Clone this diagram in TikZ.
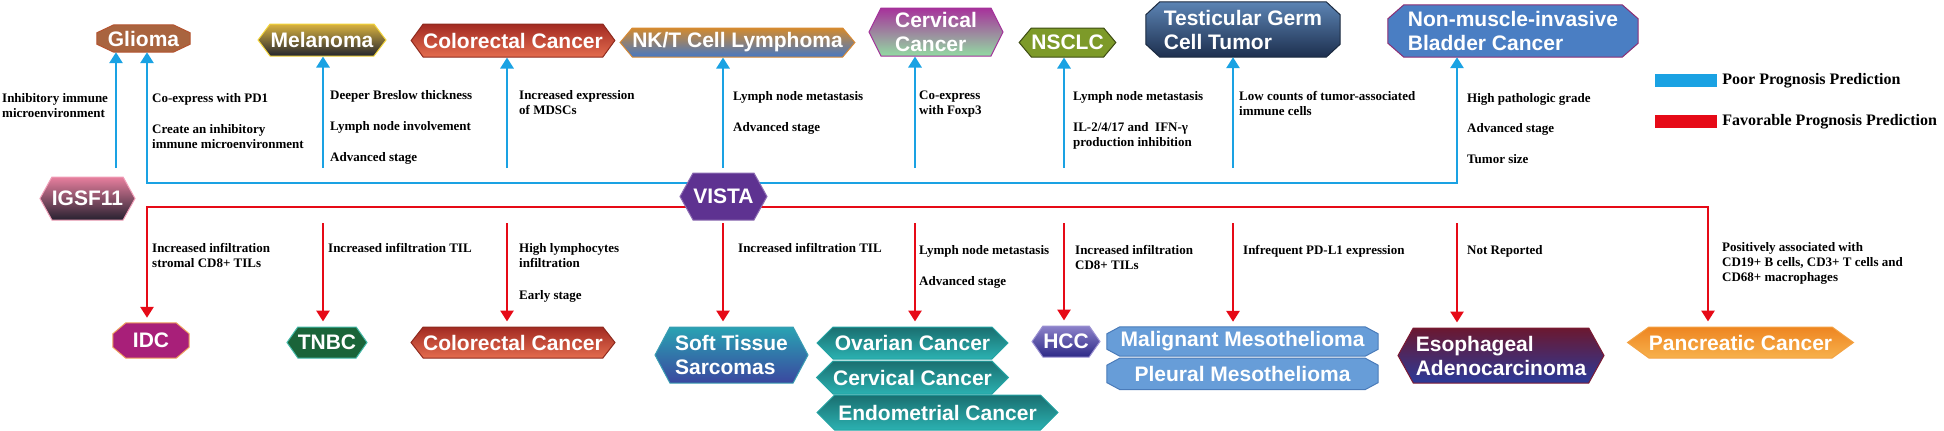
\documentclass[tikz,border=0pt]{standalone}
\usepackage{fontspec}
\setmainfont{Liberation Serif}
\setsansfont{Liberation Sans}
\usepackage{tikz}
\usetikzlibrary{shapes.symbols, arrows.meta, positioning, backgrounds}
\definecolor{poorblue}{HTML}{1AA2E3}
\definecolor{goodred}{HTML}{E60A17}
\definecolor{gliomaFill}{HTML}{A9643F}
\definecolor{gliomaLine}{HTML}{B4532F}
\definecolor{melTop}{HTML}{D9B23E}
\definecolor{melBot}{HTML}{23252F}
\definecolor{melLine}{HTML}{F2D43C}
\definecolor{crcTop}{HTML}{A22A22}
\definecolor{crcBot}{HTML}{E36C4E}
\definecolor{crcLine}{HTML}{8E2A1E}
\definecolor{nktTop}{HTML}{D38A2E}
\definecolor{nktBot}{HTML}{4778C2}
\definecolor{nktLine}{HTML}{D88A34}
\definecolor{cervTop}{HTML}{A7319B}
\definecolor{cervBot}{HTML}{92DBA2}
\definecolor{cervLine}{HTML}{A3329A}
\definecolor{nsclcFill}{HTML}{7D9A29}
\definecolor{nsclcLine}{HTML}{3D4C12}
\definecolor{tgctTop}{HTML}{5C84B4}
\definecolor{tgctBot}{HTML}{1D2F4E}
\definecolor{tgctLine}{HTML}{1B2A40}
\definecolor{nmibcFill}{HTML}{4A7EC3}
\definecolor{nmibcLine}{HTML}{8C2C72}
\definecolor{igsfTop}{HTML}{E77F9E}
\definecolor{igsfBot}{HTML}{272130}
\definecolor{igsfLine}{HTML}{F09FB8}
\definecolor{vistaFill}{HTML}{5E3291}
\definecolor{vistaLine}{HTML}{8C6CB2}
\definecolor{idcFill}{HTML}{A81F79}
\definecolor{idcLine}{HTML}{EFA25E}
\definecolor{tnbcFill}{HTML}{1A6439}
\definecolor{tnbcLine}{HTML}{43B9A8}
\definecolor{stsTop}{HTML}{29A3B3}
\definecolor{stsBot}{HTML}{3B479F}
\definecolor{stsLine}{HTML}{3A9DB2}
\definecolor{gynTop}{HTML}{1A6F70}
\definecolor{gynBot}{HTML}{2BB1B1}
\definecolor{gynLine}{HTML}{23A3A3}
\definecolor{hccTop}{HTML}{8C82CA}
\definecolor{hccBot}{HTML}{2D2986}
\definecolor{hccLine}{HTML}{9C92D2}
\definecolor{mesoFill}{HTML}{679DD8}
\definecolor{mesoLine}{HTML}{4A7BB9}
\definecolor{eacTop}{HTML}{6B1830}
\definecolor{eacBot}{HTML}{2B3A99}
\definecolor{eacLine}{HTML}{7C1B33}
\definecolor{pdacTop}{HTML}{EE8521}
\definecolor{pdacBot}{HTML}{F7B14C}
\definecolor{pdacLine}{HTML}{F3A243}

% octagon outline around a node: name, x cut, y cut, path options
\newcommand{\octframe}[4]{%
  \path[#4] ([xshift=#2]#1.north west) -- ([xshift=-#2]#1.north east)
    -- ([yshift=-#3]#1.north east) -- ([yshift=#3]#1.south east)
    -- ([xshift=-#2]#1.south east) -- ([xshift=#2]#1.south west)
    -- ([yshift=#3]#1.south west) -- ([yshift=-#3]#1.north west) -- cycle;}

\begin{document}
\begin{tikzpicture}[
    x=1pt, y=-1pt,
    hexbox/.style={signal, signal to=east and west, signal pointer angle=#1, draw, line width=1pt, inner sep=0pt, text=white, align=left, font=\sffamily\bfseries\fontsize{21}{24}\selectfont},
    hexbox/.default=110,
    octbox/.style={rectangle, inner sep=0pt, text=white, align=left, font=\sffamily\bfseries\fontsize{21}{24}\selectfont},
    grad/.style 2 args={top color=#1, bottom color=#2},
    poor/.style={draw=poorblue, line width=2.8pt, -{Triangle[length=11pt,width=13pt]}},
    good/.style={draw=goodred, line width=2.8pt, -{Triangle[length=11pt,width=13pt]}, shorten >=5pt},
    lbl/.style={anchor=north west, align=left, inner sep=0pt, font=\bfseries\fontsize{13}{15}\selectfont},
    key/.style={minimum width=62pt, minimum height=13pt, inner sep=0pt},
    keytext/.style={inner sep=0pt, font=\bfseries\fontsize{16}{18}\selectfont}
]
\useasboundingbox (0,0) rectangle (1944,431);

% column positions of the arrows
\foreach \i/\x in {1/147, 2/323, 3/507, 4/723, 5/915, 6/1064, 7/1233, 8/1457, 9/1708}
    \coordinate (col\i) at (\x,0);

% poor prognosis (top row)
\node[octbox, minimum width=93pt, minimum height=27pt] (glioma) at (143.5,38.5) {Glioma};
\node[hexbox=106, grad={melTop}{melBot}, draw=melLine, minimum width=128pt, minimum height=32pt] (melanoma) at (322,40) {Melanoma};
\node[hexbox=108, grad={crcTop}{crcBot}, draw=crcLine, minimum width=200pt, minimum height=33pt] (crc-top) at (513,40.5) {Colorectal Cancer};
\node[hexbox=100, grad={nktTop}{nktBot}, draw=nktLine, minimum width=231pt, minimum height=29pt] (nkt) at (737.5,42.5) {NK/T Cell Lymphoma};
\node[hexbox=127, grad={cervTop}{cervBot}, draw=cervLine, minimum width=134pt, minimum height=48pt] (cerv-top) at (936,32) {Cervical\\Cancer};
\node[hexbox=100, fill=nsclcFill, draw=nsclcLine, minimum width=95pt, minimum height=29pt] (nsclc) at (1067.5,42.5) {NSCLC};
\node[octbox, minimum width=194pt, minimum height=55pt] (tgct) at (1243,29.5) {Testicular Germ\\Cell Tumor};
\node[octbox, minimum width=250pt, minimum height=52pt] (nmibc) at (1513,31) {Non-muscle-invasive\\Bladder Cancer};

% checkpoints
\node[hexbox=122, grad={igsfTop}{igsfBot}, draw=igsfLine, minimum width=91pt, minimum height=43pt] (igsf) at (87.5,198.5) {IGSF11};
\node[hexbox=122, fill=vistaFill, draw=vistaLine, minimum width=87pt, minimum height=47pt] (vista) at (723.5,196.5) {VISTA};

% favorable prognosis (bottom row)
\node[octbox, minimum width=76pt, minimum height=35pt] (idc) at (151,340.5) {IDC};
\node[hexbox=110, fill=tnbcFill, draw=tnbcLine, minimum width=80pt, minimum height=31pt] (tnbc) at (327,342.5) {TNBC};
\node[hexbox=104, grad={crcTop}{crcBot}, draw=crcLine, minimum width=200pt, minimum height=31pt] (crc-bot) at (513,342.5) {Colorectal Cancer};
\node[hexbox=124, grad={stsTop}{stsBot}, draw=stsLine, minimum width=153pt, minimum height=56pt] (sts) at (731.5,355) {Soft Tissue\\Sarcomas};
\node[hexbox=90, grad={gynTop}{gynBot}, draw=gynLine, minimum width=191pt, minimum height=32pt] (ovarian) at (912.5,343) {Ovarian Cancer};
\node[hexbox=90, grad={gynTop}{gynBot}, draw=gynLine, minimum width=191pt, minimum height=33pt, below=1pt of ovarian] (cerv-bot) {Cervical Cancer};
\node[hexbox=90, grad={gynTop}{gynBot}, draw=gynLine, minimum width=241pt, minimum height=35pt] (endo) at (937.5,412.5) {Endometrial Cancer};
\node[hexbox=110, grad={hccTop}{hccBot}, draw=hccLine, minimum width=68pt, minimum height=31pt] (hcc) at (1066,341.5) {HCC};
\node[octbox, minimum width=271pt, minimum height=29pt] (mm) at (1242.5,341.5) {Malignant Mesothelioma};
\node[octbox, minimum width=271pt, minimum height=31pt, below=2pt of mm] (pm) {Pleural Mesothelioma};
\node[hexbox=122, grad={eacTop}{eacBot}, draw=eacLine, minimum width=206pt, minimum height=55pt] (eac) at (1501,355.5) {Esophageal\\Adenocarcinoma};
\node[hexbox=72, grad={pdacTop}{pdacBot}, draw=pdacLine, minimum width=223pt, minimum height=31pt] (pdac) at (1740.5,342.5) {Pancreatic Cancer};

% findings above the checkpoints
\node[lbl] (txt-igsf) at (2,93) {Inhibitory immune\\microenvironment};
\node[lbl] (txt-glioma) at (152,93) {Co-express with PD1\\[16pt]Create an inhibitory\\immune microenvironment};
\node[lbl] (txt-melanoma) at (330,90) {Deeper Breslow thickness\\[16pt]Lymph node involvement\\[16pt]Advanced stage};
\node[lbl] (txt-crc-top) at (519,90) {Increased expression\\of MDSCs};
\node[lbl] (txt-nkt) at (733,91) {Lymph node metastasis\\[16pt]Advanced stage};
\node[lbl] (txt-cerv-top) at (919,91) {Co-express\\with Foxp3};
\node[lbl] (txt-nsclc) at (1073,91) {Lymph node metastasis\\[16pt]IL-2/4/17 and\ \ IFN-γ\\production inhibition};
\node[lbl] (txt-tgct) at (1239,91) {Low counts of tumor-associated\\immune cells};
\node[lbl] (txt-nmibc) at (1467,93) {High pathologic grade\\[15pt]Advanced stage\\[16pt]Tumor size};

% findings below the checkpoints
\node[lbl] (txt-idc) at (152,243) {Increased infiltration\\stromal CD8+ TILs};
\node[lbl] (txt-tnbc) at (328,243) {Increased infiltration TIL};
\node[lbl] (txt-crc-bot) at (519,243) {High lymphocytes\\infiltration\\[17pt]Early stage};
\node[lbl] (txt-sts) at (738,243) {Increased infiltration TIL};
\node[lbl] (txt-gyn) at (919,245) {Lymph node metastasis\\[16pt]Advanced stage};
\node[lbl] (txt-hcc) at (1075,245) {Increased infiltration\\CD8+ TILs};
\node[lbl] (txt-meso) at (1243,245) {Infrequent PD-L1 expression};
\node[lbl] (txt-eac) at (1467,245) {Not Reported};
\node[lbl] (txt-pdac) at (1722,242) {Positively associated with\\CD19+ B cells, CD3+ T cells and\\CD68+ macrophages};

% legend
\node[key, fill=poorblue] (key-poor) at (1686,80.5) {};
\node[keytext, right=5pt of key-poor] (key-poor-txt) {Poor Prognosis Prediction};
\node[key, fill=goodred] (key-good) at (1686,121.5) {};
\node[keytext, right=5pt of key-good] (key-good-txt) {Favorable Prognosis Prediction};

\begin{scope}[on background layer]
% octagon outlines
\octframe{glioma}{17pt}{8pt}{fill=gliomaFill, draw=gliomaLine, line width=1pt}
\octframe{tgct}{14pt}{13pt}{grad={tgctTop}{tgctBot}, draw=tgctLine, line width=1pt}
\octframe{nmibc}{16pt}{14pt}{fill=nmibcFill, draw=nmibcLine, line width=1pt}
\octframe{idc}{13pt}{11pt}{fill=idcFill, draw=idcLine, line width=1pt}
\octframe{mm}{13pt}{7pt}{fill=mesoFill, draw=mesoLine, line width=1pt}
\octframe{pm}{13pt}{7pt}{fill=mesoFill, draw=mesoLine, line width=1pt}

% IGSF11 and VISTA -> poor prognosis
\coordinate (igsf-up) at (116,168);
\draw[poor] (igsf-up) -- (igsf-up |- glioma.south);
\coordinate (vista-up) at (723,183);
\draw[poor] (vista-up) -| (col1 |- glioma.south);
\draw[poor] (vista-up) -| (col8 |- nmibc.south);
\foreach \c/\n in {2/melanoma, 3/crc-top, 4/nkt, 5/cerv-top, 6/nsclc, 7/tgct} {
    \coordinate (rise\c) at (col\c |- 0,168);
    \draw[poor] (rise\c) -- (rise\c |- \n.south);
}
% VISTA -> favorable prognosis
\coordinate (vista-dn) at (723,207);
\draw[good] (vista-dn) -| (col1 |- idc.north);
\draw[good] (vista-dn) -| (col9 |- pdac.north);
\foreach \c/\n in {2/tnbc, 3/crc-bot, 4/sts, 5/ovarian, 6/hcc, 7/mm, 8/eac} {
    \coordinate (drop\c) at (col\c |- 0,223);
    \draw[good] (drop\c) -- (drop\c |- \n.north);
}
\end{scope}

\end{tikzpicture}
\end{document}
